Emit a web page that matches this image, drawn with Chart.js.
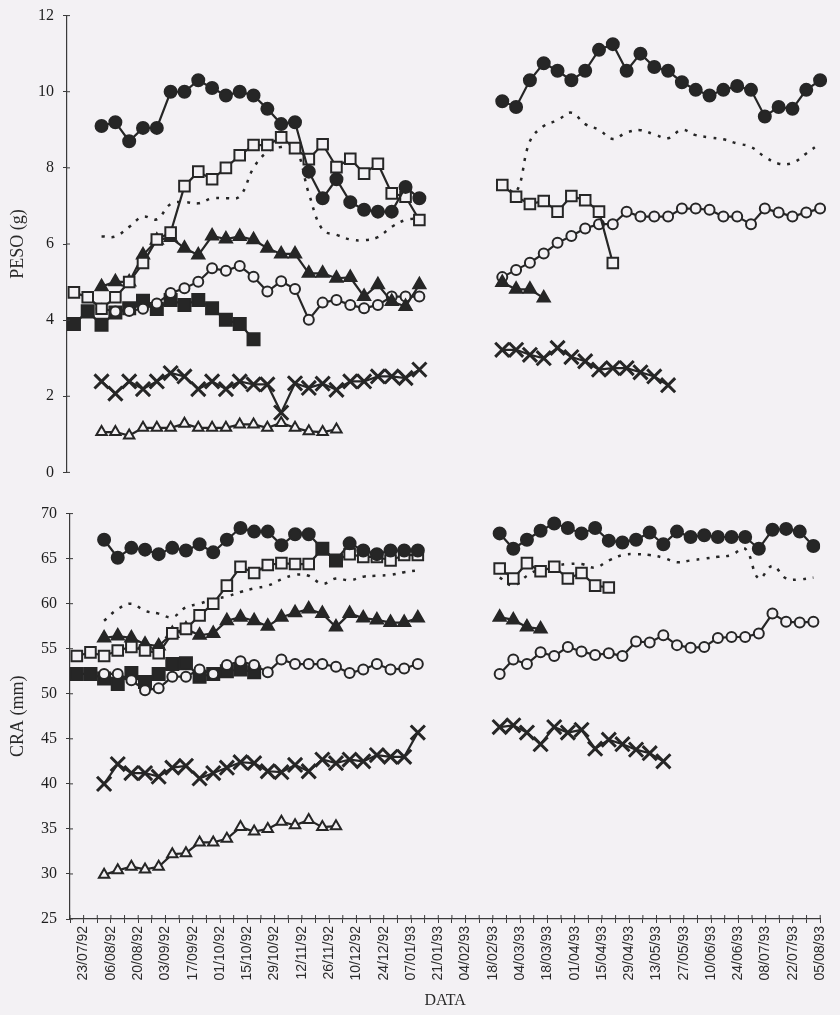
<!DOCTYPE html>
<html>
<head>
<meta charset="utf-8">
<script src="https://cdn.jsdelivr.net/npm/chart.js@4.4.1/dist/chart.umd.min.js"></script>
<style>
  html, body { margin: 0; padding: 0; background: #f3f1f4; overflow: hidden; }
  #wrap { position: relative; width: 840px; height: 1015px; }
  canvas { position: absolute; left: 0; }
  #peso { top: -3px; }
  #cra { top: 495px; }
</style>
</head>
<body>
<div id="wrap">
  <canvas id="peso" width="840" height="494"></canvas>
  <canvas id="cra" width="840" height="520"></canvas>
</div>
<script>
// eixo x em semanas contadas a partir de 23/07/92 (rótulos a cada 14 dias)
const rotulosData = ['23/07/92', '06/08/92', '20/08/92', '03/09/92', '17/09/92', '01/10/92', '15/10/92',
  '29/10/92', '12/11/92', '26/11/92', '10/12/92', '24/12/92', '07/01/93', '21/01/93', '04/02/93',
  '18/02/93', '04/03/93', '18/03/93', '01/04/93', '15/04/93', '29/04/93', '13/05/93', '27/05/93',
  '10/06/93', '24/06/93', '08/07/93', '22/07/93', '05/08/93'];

// semana da primeira amostra de cada trecho (amostragens semanais)
const inicioA = -0.5;  // séries que começam junto ao eixo
const inicioB = 1.5;
const inicioC = 30.5;  // segundo período

// PESO (g)
const pesoCircCheio1 = [9.1, 9.2, 8.7, 9.05, 9.05, 10.0, 10.0, 10.3, 10.1, 9.9, 10.0, 9.9, 9.55, 9.15, 9.2, 7.9, 7.2, 7.7, 7.1, 6.9, 6.85, 6.85, 7.5, 7.2];
const pesoCircCheio2 = [9.75, 9.6, 10.3, 10.75, 10.55, 10.3, 10.55, 11.1, 11.25, 10.55, 11.0, 10.65, 10.55, 10.25, 10.05, 9.9, 10.05, 10.15, 10.05, 9.35, 9.6, 9.55, 10.05, 10.3];
const pesoQuadAberto1 = [4.73, 4.6, 4.3, 4.6, 5.0, 5.5, 6.12, 6.3, 7.52, 7.9, 7.7, 8.0, 8.33, 8.6, 8.6, 8.8, 8.52, 8.23, 8.62, 8.02, 8.24, 7.85, 8.11, 7.33, 7.24, 6.63];
const pesoQuadAberto2 = [7.55, 7.24, 7.05, 7.13, 6.85, 7.26, 7.15, 6.85, 5.5];
const pesoPontilhada1 = [6.2, 6.2, 6.45, 6.72, 6.65, 7.05, 7.1, 7.07, 7.2, 7.2, 7.25, 8.0, 8.42, 8.55, 8.55, 7.33, 6.37, 6.24, 6.12, 6.1, 6.18, 6.45, 6.63, 6.68];
const pesoPontilhada2 = [7.6, 7.37, 8.7, 9.1, 9.25, 9.45, 9.15, 9.0, 8.76, 8.93, 8.99, 8.88, 8.78, 9.0, 8.86, 8.8, 8.75, 8.64, 8.55, 8.29, 8.11, 8.13, 8.38, 8.64];
const pesoTriCheio1 = [4.88, 5.01, 5.0, 5.71, 6.1, 6.17, 5.89, 5.71, 6.21, 6.13, 6.2, 6.11, 5.89, 5.74, 5.74, 5.23, 5.23, 5.1, 5.12, 4.62, 4.93, 4.49, 4.36, 4.93];
const pesoTriCheio2 = [4.99, 4.81, 4.81, 4.58];
const pesoCircAberto1 = [4.3, 4.23, 4.24, 4.3, 4.44, 4.71, 4.84, 5.01, 5.36, 5.3, 5.42, 5.14, 4.75, 5.02, 4.82, 4.01, 4.46, 4.53, 4.4, 4.31, 4.4, 4.62, 4.62, 4.62];
const pesoCircAberto2 = [5.13, 5.32, 5.51, 5.75, 6.03, 6.21, 6.41, 6.52, 6.52, 6.85, 6.72, 6.72, 6.72, 6.93, 6.93, 6.9, 6.72, 6.72, 6.52, 6.93, 6.83, 6.72, 6.83, 6.93];
const pesoQuadCheio1 = [3.9, 4.23, 3.88, 4.2, 4.31, 4.51, 4.29, 4.53, 4.4, 4.53, 4.31, 4.01, 3.9, 3.5];
const pesoXis1 = [2.39, 2.07, 2.39, 2.19, 2.39, 2.61, 2.52, 2.19, 2.39, 2.19, 2.39, 2.31, 2.31, 1.57, 2.34, 2.22, 2.33, 2.17, 2.39, 2.39, 2.52, 2.52, 2.48, 2.7];
const pesoXis2 = [3.22, 3.22, 3.09, 3.0, 3.27, 3.03, 2.92, 2.7, 2.74, 2.74, 2.63, 2.52, 2.29];
const pesoTriAberto1 = [1.06, 1.06, 0.97, 1.17, 1.17, 1.17, 1.28, 1.17, 1.17, 1.17, 1.26, 1.26, 1.17, 1.3, 1.17, 1.08, 1.06, 1.13];

// CRA (mm)
const craCircCheio1 = [67.1, 65.1, 66.2, 66.0, 65.5, 66.2, 65.9, 66.6, 65.7, 67.1, 68.4, 68.0, 68.0, 66.5, 67.7, 67.7, 66.1, 64.8, 66.7, 65.9, 65.5, 65.9, 65.9, 65.9];
const craCircCheio2 = [67.8, 66.1, 67.1, 68.1, 68.9, 68.4, 67.8, 68.4, 67.0, 66.8, 67.1, 67.9, 66.6, 68.0, 67.4, 67.6, 67.4, 67.4, 67.4, 66.1, 68.2, 68.3, 68.0, 66.4];
const craQuadAberto1 = [54.2, 54.6, 54.2, 54.8, 55.2, 54.8, 54.5, 56.7, 57.2, 58.7, 60.0, 62.0, 64.1, 63.4, 64.3, 64.5, 64.4, 64.4, 66.1, 64.8, 65.5, 65.2, 65.2, 64.8, 65.4, 65.4];
const craQuadAberto2 = [63.9, 62.8, 64.5, 63.6, 64.1, 62.8, 63.4, 62.0, 61.8];
const craPontilhada1 = [58.1, 59.4, 60.0, 59.2, 58.9, 58.5, 59.6, 60.0, 60.5, 60.8, 61.3, 61.7, 62.0, 62.7, 63.2, 63.1, 62.2, 62.8, 62.6, 63.0, 63.1, 63.2, 63.5, 63.7];
const craPontilhada2 = [62.9, 62.0, 63.1, 63.9, 64.2, 64.4, 64.4, 64.0, 64.8, 65.4, 65.5, 65.4, 65.1, 64.6, 64.8, 65.0, 65.2, 65.4, 66.1, 62.8, 64.2, 62.8, 62.7, 62.9];
const craTriCheio1 = [56.2, 56.4, 56.2, 55.5, 55.3, 56.7, 57.2, 56.5, 56.7, 58.1, 58.5, 58.1, 57.5, 58.5, 59.0, 59.4, 58.9, 57.4, 58.9, 58.4, 58.2, 57.9, 57.9, 58.4];
const craTriCheio2 = [58.5, 58.2, 57.4, 57.2];
const craCircAberto1 = [52.2, 52.2, 51.5, 50.4, 50.6, 51.9, 51.9, 52.7, 52.2, 53.2, 53.6, 53.2, 52.4, 53.8, 53.3, 53.3, 53.3, 53.0, 52.3, 52.7, 53.3, 52.7, 52.8, 53.3];
const craCircAberto2 = [52.2, 53.8, 53.3, 54.6, 54.2, 55.2, 54.7, 54.3, 54.5, 54.2, 55.8, 55.7, 56.5, 55.4, 55.1, 55.2, 56.2, 56.3, 56.3, 56.7, 58.9, 58.0, 57.9, 58.0];
const craQuadCheio1 = [52.2, 52.2, 51.7, 51.1, 52.3, 51.3, 52.2, 53.3, 53.4, 51.9, 52.2, 52.5, 52.7, 52.4];
const craXis1 = [40.0, 42.2, 41.2, 41.2, 40.8, 41.8, 42.0, 40.6, 41.2, 41.8, 42.4, 42.3, 41.4, 41.3, 42.1, 41.4, 42.7, 42.3, 42.7, 42.5, 43.2, 43.0, 43.0, 45.7];
const craXis2 = [46.3, 46.5, 45.7, 44.4, 46.3, 45.7, 46.0, 43.9, 44.9, 44.4, 43.8, 43.4, 42.5];
const craTriAberto1 = [29.9, 30.4, 30.8, 30.5, 30.8, 32.2, 32.3, 33.5, 33.5, 33.9, 35.2, 34.7, 35.0, 35.8, 35.4, 36.0, 35.2, 35.3];
// duas amostras da série de círculos cheios (CRA) aparecem com marcador quadrado
const semanasQuadradas = [17.5, 18.5];

const TINTA = '#262626';
const FUNDO = '#f3f1f4';
const EIXO = '#3a3a3a';

// junta trechos [semana inicial, valores] com um null entre eles para cortar a linha
function pontos(...trechos) {
  const out = [];
  trechos.forEach(([w0, vals], k) => {
    if (k > 0) out.push({ x: w0 - 0.5, y: null });
    vals.forEach((v, i) => out.push({ x: w0 + i, y: v }));
  });
  return out;
}

const EST = {
  circCheio: { pointStyle: 'circle', pointRadius: 6, pointBackgroundColor: TINTA },
  circAberto: { pointStyle: 'circle', pointRadius: 5, pointBackgroundColor: FUNDO },
  quadAberto: { pointStyle: 'rect', pointRadius: 7.5, pointBackgroundColor: FUNDO },
  quadCheio: { pointStyle: 'rect', pointRadius: 8.5, pointBackgroundColor: TINTA },
  triCheio: { pointStyle: 'triangle', pointRadius: 7, pointBackgroundColor: TINTA },
  triAberto: { pointStyle: 'triangle', pointRadius: 6, pointBackgroundColor: FUNDO },
  xis: { pointStyle: 'crossRot', pointRadius: 10, pointBorderWidth: 3 },
  pontilhada: { pointRadius: 0, borderDash: [3, 7], borderWidth: 2.5, tension: 0.4 }
};

function serie(data, estilo) {
  return Object.assign({
    data: data, borderColor: TINTA, borderWidth: 2.2, pointBorderColor: TINTA,
    pointBorderWidth: 2, pointHoverRadius: 0, spanGaps: false, tension: 0, fill: false
  }, estilo);
}

// marcas do eixo que atravessam a linha (parte interna)
const marcasInternas = {
  id: 'marcasInternas',
  afterDraw(chart) {
    const ctx = chart.ctx;
    ctx.save();
    ctx.strokeStyle = EIXO;
    ctx.lineWidth = 1;
    Object.values(chart.scales).forEach(s => {
      if (!s.options.display) return;
      s.ticks.forEach(t => {
        const p = s.getPixelForValue(t.value);
        ctx.beginPath();
        if (s.isHorizontal()) { ctx.moveTo(p, s.top); ctx.lineTo(p, s.top - 4); }
        else { ctx.moveTo(s.right, p); ctx.lineTo(s.right + 3, p); }
        ctx.stroke();
      });
    });
    ctx.restore();
  }
};

function grafico(id, datasets, y, mostraX, pad, larguraY) {
  const fonteY = { family: 'Liberation Serif', size: 16 };
  return new Chart(document.getElementById(id), {
    type: 'line',
    data: { datasets: datasets },
    options: {
      responsive: false,
      animation: false,
      events: [],
      layout: { padding: pad },
      plugins: { legend: { display: false }, tooltip: { enabled: false } },
      scales: {
        x: {
          type: 'linear', min: -1, max: 54, display: mostraX,
          ticks: {
            display: mostraX,
            stepSize: 1, autoSkip: false, minRotation: 90, maxRotation: 90, padding: 3,
            color: '#2a2a2a', font: { family: 'Liberation Sans', size: 14 },
            callback: v => (v >= 0 && v % 2 === 0) ? rotulosData[v / 2] : ''
          },
          grid: { display: mostraX, drawOnChartArea: false, tickLength: 4, color: EIXO },
          border: { display: mostraX, color: EIXO, width: 1.2 },
          title: { display: mostraX, text: 'DATA', color: '#2a2a2a', padding: 0,
                   font: { family: 'Liberation Serif', size: 16 } },
          afterFit: s => { s.height = mostraX ? 91 : 0; }
        },
        y: {
          min: y.min, max: y.max,
          ticks: { stepSize: y.passo, padding: 9, color: '#1e1e1e', font: fonteY },
          grid: { drawOnChartArea: false, tickLength: 4, color: EIXO },
          border: { color: EIXO, width: 1.2 },
          title: { display: true, text: y.titulo, color: '#2a2a2a', padding: { top: 7 },
                   font: { family: 'Liberation Serif', size: 18 } },
          afterFit: s => { s.width = larguraY; }
        }
      }
    },
    plugins: [marcasInternas]
  });
}

// o eixo y reserva 18 px acima e abaixo para os rótulos; a tela do peso começa em -3 px
grafico('peso', [
  serie(pontos([inicioB, pesoCircCheio1], [inicioC, pesoCircCheio2]), EST.circCheio),
  serie(pontos([inicioA, pesoQuadAberto1], [inicioC, pesoQuadAberto2]), EST.quadAberto),
  serie(pontos([inicioB, pesoTriCheio1], [inicioC, pesoTriCheio2]), EST.triCheio),
  serie(pontos([inicioB, pesoCircAberto1], [inicioC, pesoCircAberto2]), EST.circAberto),
  serie(pontos([inicioA, pesoQuadCheio1]), EST.quadCheio),
  serie(pontos([inicioB, pesoXis1], [inicioC, pesoXis2]), EST.xis),
  serie(pontos([inicioB, pesoTriAberto1]), EST.triAberto),
  serie(pontos([inicioB, pesoPontilhada1], [inicioC, pesoPontilhada2]), EST.pontilhada)
], { min: 0, max: 12, passo: 2, titulo: 'PESO (g)' }, false,
   { top: 18, bottom: 18, left: 0, right: 5 }, 67);

grafico('cra', [
  serie(pontos([inicioB, craCircCheio1], [inicioC, craCircCheio2]), Object.assign({}, EST.circCheio, {
    pointStyle: c => (c.raw && semanasQuadradas.includes(c.raw.x)) ? 'rect' : 'circle',
    pointRadius: c => (c.raw && semanasQuadradas.includes(c.raw.x)) ? 8.5 : 6
  })),
  serie(pontos([inicioA, craQuadAberto1], [inicioC, craQuadAberto2]), EST.quadAberto),
  serie(pontos([inicioB, craTriCheio1], [inicioC, craTriCheio2]), EST.triCheio),
  serie(pontos([inicioB, craCircAberto1], [inicioC, craCircAberto2]), EST.circAberto),
  serie(pontos([inicioA, craQuadCheio1]), EST.quadCheio),
  serie(pontos([inicioB, craXis1], [inicioC, craXis2]), EST.xis),
  serie(pontos([inicioB, craTriAberto1]), EST.triAberto),
  serie(pontos([inicioB, craPontilhada1], [inicioC, craPontilhada2]), EST.pontilhada)
], { min: 25, max: 70, passo: 5, titulo: 'CRA (mm)' }, true,
   { top: 18, bottom: 5, left: 0, right: 2 }, 70);
</script>
</body>
</html>
